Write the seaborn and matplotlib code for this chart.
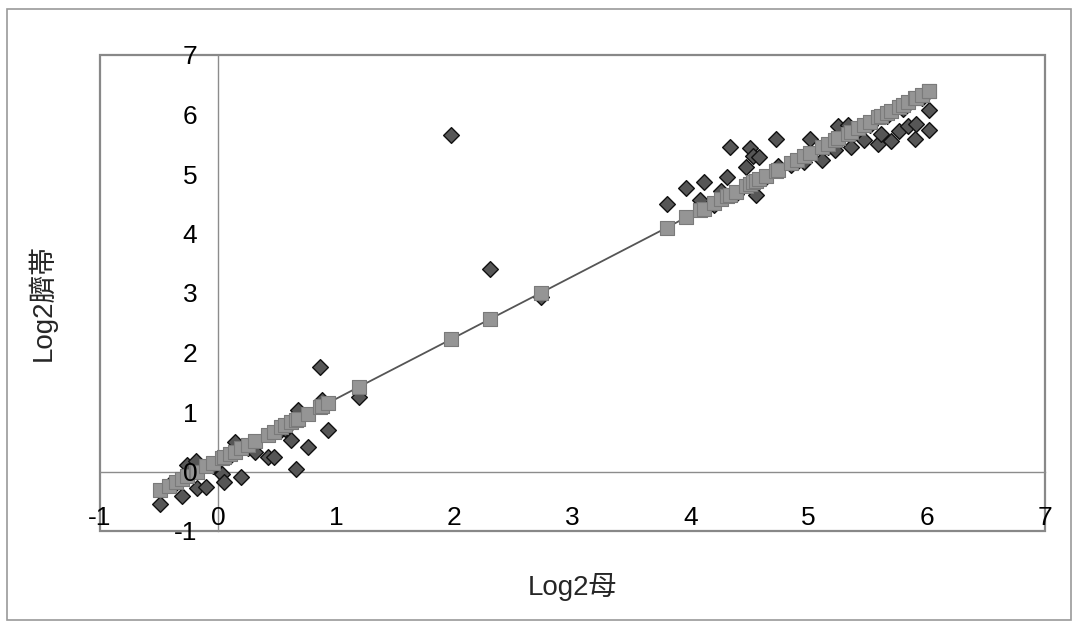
import numpy as np
import pandas as pd
import matplotlib
matplotlib.use("Agg")
import matplotlib.pyplot as plt
from matplotlib.patches import Rectangle
import seaborn as sns

# ---- data ----
mother_log2 = [-0.49, -0.42, -0.36, -0.31, -0.26, -0.19, -0.18, -0.10, -0.04, 0.03,
               0.05, 0.10, 0.14, 0.19, 0.25, 0.31, 0.42, 0.47, 0.53, 0.57,
               0.62, 0.66, 0.68, 0.76, 0.86, 0.88, 0.93, 1.19,
               1.97, 2.30, 2.73,
               3.80, 3.96, 4.08, 4.11, 4.20, 4.26, 4.31, 4.33, 4.38, 4.47,
               4.50, 4.53, 4.55, 4.58, 4.64, 4.72, 4.74, 4.85, 4.90, 4.96,
               5.01, 5.11, 5.16, 5.22, 5.25, 5.33, 5.36, 5.42, 5.47, 5.52,
               5.59, 5.61, 5.66, 5.70, 5.76, 5.80, 5.84, 5.90, 5.91, 5.96,
               6.02, 6.02]
cord_log2 = [-0.55, -0.22, -0.20, -0.41, 0.11, 0.18, -0.28, -0.26, 0.10, -0.04,
             -0.18, 0.26, 0.50, -0.10, 0.40, 0.33, 0.24, 0.25, 0.70, 0.72,
             0.53, 0.04, 1.03, 0.42, 1.76, 1.20, 0.70, 1.26,
             5.66, 3.41, 2.93,
             4.50, 4.76, 4.56, 4.87, 4.48, 4.72, 4.95, 5.45, 4.66, 5.12,
             5.43, 5.30, 4.64, 5.28, 4.95, 5.58, 5.13, 5.15, 5.20, 5.20,
             5.58, 5.24, 5.45, 5.40, 5.81, 5.82, 5.46, 5.70, 5.57, 5.83,
             5.51, 5.68, 5.98, 5.56, 5.73, 6.10, 5.81, 5.59, 5.84, 6.28,
             5.74, 6.07]
fitted_log2 = [-0.31, -0.24, -0.18, -0.13, -0.08, -0.01, 0.00, 0.09, 0.15, 0.22,
               0.24, 0.29, 0.33, 0.39, 0.45, 0.51, 0.62, 0.67, 0.74, 0.78,
               0.83, 0.87, 0.89, 0.97, 1.08, 1.10, 1.15, 1.42,
               2.22, 2.56, 3.00,
               4.10, 4.27, 4.39, 4.42, 4.52, 4.58, 4.63, 4.65, 4.70, 4.79,
               4.83, 4.86, 4.88, 4.91, 4.97, 5.05, 5.07, 5.19, 5.24, 5.30,
               5.35, 5.45, 5.51, 5.57, 5.60, 5.68, 5.71, 5.77, 5.82, 5.88,
               5.95, 5.97, 6.02, 6.06, 6.12, 6.16, 6.21, 6.27, 6.28, 6.33,
               6.39, 6.39]
tick_values = [-1, 0, 1, 2, 3, 4, 5, 6, 7]
x_label = "Log2母"
y_label = "Log2臍帯"

df = pd.DataFrame({"mother": mother_log2, "cord": cord_log2, "fit": fitted_log2})

sns.set_style("white")
plt.rcParams["font.family"] = ["Liberation Sans", "Noto Sans CJK JP", "DejaVu Sans"]
plt.rcParams["axes.unicode_minus"] = False

fig = plt.figure(figsize=(10.78, 6.28), dpi=100)
fig.patch.set_facecolor("white")
# outer chart border
fig.patches.append(Rectangle((7 / 1078, 1 - 620 / 628), 1064 / 1078, 611 / 628,
                             transform=fig.transFigure, fill=False,
                             edgecolor="#9a9a9a", linewidth=1.2))

ax = fig.add_axes([100 / 1078, 1 - 531 / 628, 945 / 1078, 476 / 628])
ax.set_facecolor("white")

sns.scatterplot(data=df, x="mother", y="cord", marker="D", s=64,
                color="#565656", edgecolor="#111111", linewidth=1.0,
                ax=ax, zorder=3, legend=False)
sns.lineplot(data=df, x="mother", y="fit", color="#555555", linewidth=1.3,
             ax=ax, zorder=4, legend=False, errorbar=None)
sns.scatterplot(data=df, x="mother", y="fit", marker="s", s=90,
                color="#959595", edgecolor="#7a7a7a", linewidth=0.8,
                ax=ax, zorder=5, legend=False)

ax.set_xlim(-1, 7)
ax.set_ylim(-1, 7)
ax.set_xticks(tick_values)
ax.set_yticks(tick_values)
ax.set_xticklabels([str(v) for v in tick_values])
ax.set_yticklabels([str(v) for v in tick_values])

for side in ["top", "right"]:
    ax.spines[side].set_visible(False)
ax.spines["left"].set_position(("data", 0))
ax.spines["bottom"].set_position(("data", 0))
for side in ["left", "bottom"]:
    ax.spines[side].set_color("#8c8c8c")
    ax.spines[side].set_linewidth(1.0)
    ax.spines[side].set_zorder(2)

ax.xaxis.set_zorder(6)
ax.yaxis.set_zorder(6)

ax.tick_params(axis="both", direction="in", length=4.5, width=0.8,
               color="#8c8c8c", labelsize=19, labelcolor="black")
ax.tick_params(axis="x", pad=25)
ax.tick_params(axis="y", pad=15)

# plot-area frame
ax.add_patch(Rectangle((0, 0), 1, 1, transform=ax.transAxes, fill=False,
                       edgecolor="#888888", linewidth=1.6, clip_on=False, zorder=1))

ax.set_xlabel(x_label, fontsize=20)
ax.set_ylabel(y_label, fontsize=20)
ax.xaxis.set_label_coords(0.5, -0.088)
ax.yaxis.set_label_coords(-0.046, 0.48)
ax.grid(False)

fig.savefig("out.png", dpi=100, facecolor="white")
